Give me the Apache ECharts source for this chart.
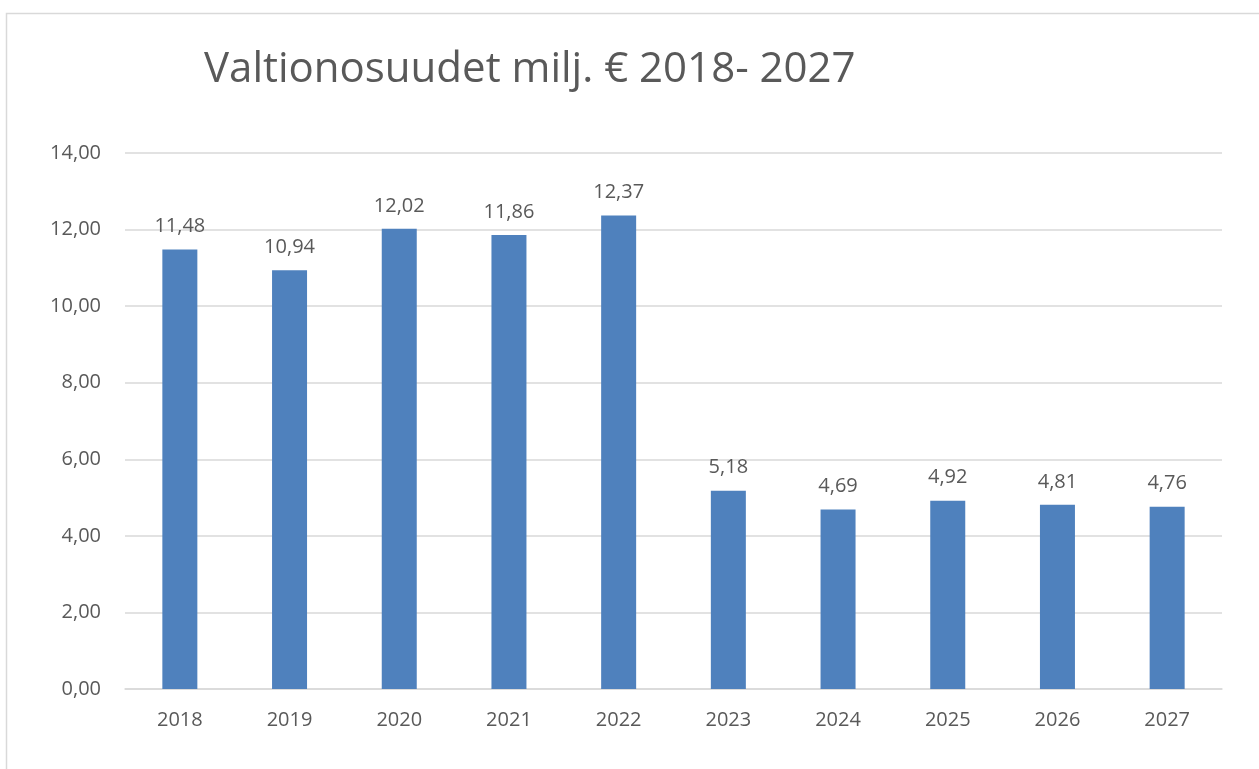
<!DOCTYPE html>
<html>
<head>
<meta charset="utf-8">
<script src="https://cdn.jsdelivr.net/npm/echarts@6/dist/echarts.min.js"></script>
<style>
  html, body { margin: 0; padding: 0; background: #fff; }
  #chart { width: 1259px; height: 769px; }
</style>
</head>
<body>
<div id="chart"></div>
<script>
// vuodet ja arvot (milj. €)
const years = ['2018', '2019', '2020', '2021', '2022', '2023', '2024', '2025', '2026', '2027'];
const values = [11.48, 10.94, 12.02, 11.86, 12.37, 5.18, 4.69, 4.92, 4.81, 4.76];
const titleText = 'Valtionosuudet milj. € 2018- 2027';

const TEXT_COLOR = '#595959';
const FONT = '"Open Sans", sans-serif';

const fmt = v => v.toFixed(2).replace('.', ',');

const chart = echarts.init(document.getElementById('chart'));

chart.setOption({
  animation: false,
  graphic: [{
    type: 'rect',
    left: 4,
    top: 11,
    shape: { width: 1300, height: 800 },
    style: { fill: 'none', stroke: '#d9d9d9', lineWidth: 1.5 },
    silent: true
  }],
  title: {
    text: titleText,
    left: 199,
    top: 44,
    textStyle: {
      color: TEXT_COLOR,
      fontFamily: FONT,
      fontSize: 42,
      fontWeight: 'normal'
    }
  },
  grid: {
    left: 125,
    right: 37,
    top: 153,
    bottom: 80,
    containLabel: false
  },
  xAxis: {
    type: 'category',
    data: years,
    axisLine: { lineStyle: { color: '#d9d9d9', width: 1.5 } },
    axisTick: { show: false },
    axisLabel: {
      color: TEXT_COLOR,
      fontFamily: FONT,
      fontSize: 20,
      margin: 21
    }
  },
  yAxis: {
    type: 'value',
    min: 0,
    max: 14,
    interval: 2,
    axisLine: { show: false },
    axisTick: { show: false },
    splitLine: { lineStyle: { color: '#d9d9d9', width: 1.5 } },
    axisLabel: {
      color: TEXT_COLOR,
      fontFamily: FONT,
      fontSize: 20,
      margin: 24,
      formatter: v => fmt(v)
    }
  },
  series: [{
    type: 'bar',
    data: values,
    barWidth: 35,
    itemStyle: { color: '#4f81bd' },
    label: {
      show: true,
      position: 'top',
      distance: 13,
      color: TEXT_COLOR,
      fontFamily: FONT,
      fontSize: 20,
      formatter: p => fmt(p.value)
    }
  }]
});
</script>
</body>
</html>
